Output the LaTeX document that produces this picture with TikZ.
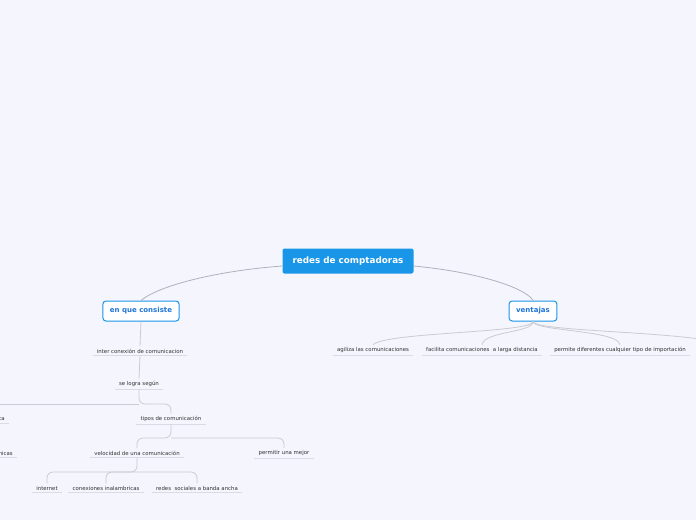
\documentclass[tikz,border=0pt]{standalone}
\usepackage{fontspec}
\setmainfont{DejaVu Sans}
\usepackage{xcolor}
\usepackage{tikz}
\usetikzlibrary{positioning,calc}
\definecolor{mmback}{HTML}{F4F5FD}
\definecolor{mmblue}{HTML}{1A96E8}
\definecolor{mmtext}{HTML}{1E74D8}
\definecolor{mmgray}{HTML}{333333}
\definecolor{mmlink}{HTML}{AEB2BC}
\definecolor{mmtwig}{HTML}{C9CCD4}
\definecolor{mmline}{HTML}{D9DCE4}

\begin{document}
\begin{tikzpicture}[
    x=1pt, y=-1pt,
    root/.style={rectangle, rounded corners=2pt, fill=mmblue, text=white, minimum width=131pt, minimum height=25pt, font=\fontsize{8.8}{10}\selectfont\bfseries},
    idea/.style={rectangle, rounded corners=3pt, draw=mmblue, line width=1pt, fill=white, text=mmtext, minimum height=20pt, inner xsep=7pt, font=\fontsize{7}{8}\selectfont\bfseries},
    topic/.style={font=\fontsize{5.4}{6.4}\selectfont, text=mmgray, inner xsep=4pt, inner ysep=2.4pt,
        append after command={(\tikzlastnode.south west) edge[draw=mmline, line width=1pt] (\tikzlastnode.south east)}},
    link/.style={draw=mmlink, line width=0.8pt},
    twig/.style={draw=mmtwig, line width=0.8pt}
]
\useasboundingbox[fill=mmback] (0,0) rectangle (696,520);

% Central topic
\node[root] (redes) at (348,261) {redes de comptadoras};

% Main ideas
\node[idea] (consiste) at (141,311) {en que consiste};
\node[idea] (ventajas) at (533,311) {ventajas};

% Left branch
\node[topic] (inter) at (140,351) {inter conexión de comunicacion};
\node[topic] (logra) at (139,384) {se logra según};
\node[topic, anchor=east] (ca) at (9,419) {ca};
\node[topic] (tipos) at (171,419) {tipos de comunicación};
\node[topic, anchor=east] (nicas) at (17,453) {nicas};
\node[topic] (velocidad) at (137,453) {velocidad de una comunicación};
\node[topic] (mejor) at (284,453) {permitir una mejor};
\node[topic] (internet) at (47,488) {internet};
\node[topic] (inalam) at (106,488) {conexiones inalambricas};
\node[topic] (banda) at (197,488) {redes\ \ sociales a banda ancha};

% Right branch
\node[topic] (agiliza) at (373,350) {agiliza las comunicaciones};
\node[topic] (facilita) at (482,350) {facilita comunicaciones\ \ a larga distancia};
\node[topic] (permite) at (620,350) {permite diferentes cualquier tipo de importación};

% Hubs
\coordinate (logra hub) at (139,404);
\coordinate (left edge) at (-4,404);
\coordinate (tipos hub) at (171,438);
\coordinate (velocidad hub) at (137,472);
\coordinate (right edge) at (700,339);

% Links from the centre
\draw[link] ([yshift=-5pt]redes.west) .. controls (215,271) and (158,286) .. (consiste.north);
\draw[link] ([yshift=-5pt]redes.east) .. controls (478,272) and (526,288) .. (ventajas.north);

% Left branch links
\draw[twig] (consiste.south) -- (inter.north);
\draw[twig] (inter.south) -- (logra.north);
\draw[twig, rounded corners=6pt] (logra.south) -- (logra hub) -| (tipos.north);
\draw[twig] (logra hub) -- (left edge);
\draw[twig, rounded corners=6pt] (tipos.south) -- (tipos hub) -| (velocidad.north);
\draw[twig, rounded corners=6pt] (tipos hub) -| (mejor.north);
\draw[twig, rounded corners=6pt] (velocidad.south) -- (velocidad hub) -| (internet.north);
\draw[twig, rounded corners=6pt] (velocidad hub) -| (inalam.north);
\draw[twig, rounded corners=6pt] (velocidad hub) -| (banda.north);

% Right branch links
\draw[twig] (ventajas.south) .. controls (533,333) and (385,332) .. (agiliza.north);
\draw[twig] (ventajas.south) .. controls (533,333) and (484,331) .. (facilita.north);
\draw[twig] (ventajas.south) .. controls (533,331) and (618,330) .. (permite.north);
\draw[twig] (ventajas.south) .. controls (533,330) and (640,331) .. (right edge);

\end{tikzpicture}
\end{document}
